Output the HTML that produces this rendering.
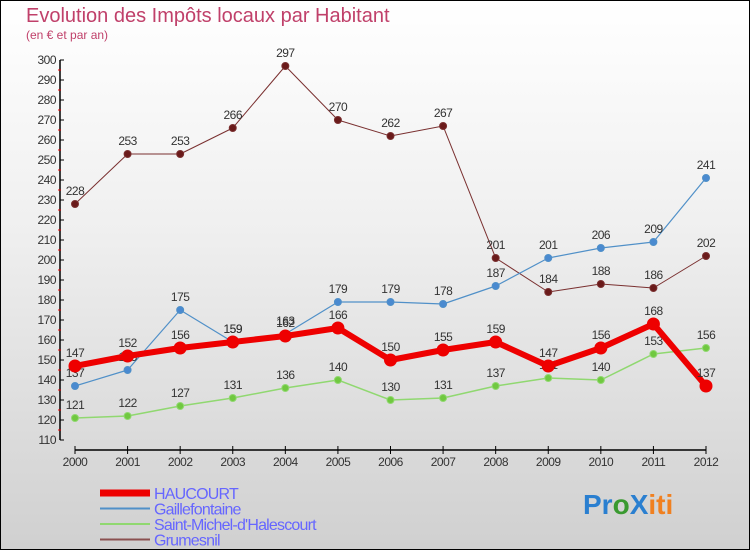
<!DOCTYPE html>
<html><head><meta charset="utf-8"><style>
body{margin:0}
#c{width:750px;height:550px;position:relative;box-sizing:border-box;border:1px solid #000;background:linear-gradient(#ffffff 0%,#f0f0f0 40%,#d0d0d0 100%);font-family:"Liberation Sans",sans-serif;overflow:hidden}
</style></head><body>
<div id="c">
<svg id="s" width="750" height="550" style="position:absolute;left:-1px;top:-1px">
<text x="26" y="22" font-size="20" fill="#c0406a">Evolution des Impôts locaux par Habitant</text>
<text x="26" y="39" font-size="12" fill="#c0406a">(en € et par an)</text>
<g id="axes"></g><g id="series"></g><g id="legend"></g>
<text x="583" y="514" font-size="28" font-weight="bold"><tspan fill="#2a7fd0">Pr</tspan><tspan fill="#3a9a30">o</tspan><tspan fill="#2a7fd0">X</tspan><tspan fill="#f08020">iti</tspan></text>
</svg>
</div>
<script>
const years=["2000","2001","2002","2003","2004","2005","2006","2007","2008","2009","2010","2011","2012"];
const yTicks=[110,120,130,140,150,160,170,180,190,200,210,220,230,240,250,260,270,280,290,300];
const haucourt=[147,152,156,159,162,166,150,155,159,147,156,168,137];
const gaillefontaine=[137,145,175,159,163,179,179,178,187,201,206,209,241];
const saintMichel=[121,122,127,131,136,140,130,131,137,141,140,153,156];
const grumesnil=[228,253,253,266,297,270,262,267,201,184,188,186,202];
const NS="http://www.w3.org/2000/svg";
function X(i){return 75+i*(706-75)/12;}
function Y(v){return 60+(300-v)*2;}
function mk(tag,attrs,parent,txt){const e=document.createElementNS(NS,tag);for(const k in attrs)e.setAttribute(k,attrs[k]);if(txt!==undefined)e.textContent=txt;parent.appendChild(e);return e;}
const ax=document.getElementById('axes');
let e=mk('line',{x1:60,y1:Y(110),x2:60,y2:Y(300),stroke:'#000','stroke-width':1.5},ax);

e=mk('line',{x1:75,y1:450,x2:706,y2:450,stroke:'#000','stroke-width':1.5},ax);

yTicks.forEach(v=>{
 mk('line',{x1:60,y1:Y(v),x2:64,y2:Y(v),stroke:'#000'},ax);
 if(v<300)mk('line',{x1:58,y1:Y(v+5),x2:61,y2:Y(v+5),stroke:'#e00'},ax);
 const t=mk('text',{x:56,y:Y(v)+4,'font-size':12,'text-anchor':'end',fill:'#333','letter-spacing':'-0.5'},ax,String(v));
 
});
years.forEach((y,i)=>{
 mk('line',{x1:X(i),y1:446,x2:X(i),y2:454,stroke:'#000'},ax);
 const t=mk('text',{x:X(i),y:466,'font-size':12,'text-anchor':'middle',fill:'#333','letter-spacing':'-0.5'},ax,y);
 
});
const sg=document.getElementById('series');
function draw(name,data,color,w,r,dot){
 const g=mk('g',{},sg);
 
 const p=mk('polyline',{points:data.map((v,i)=>X(i)+','+Y(v)).join(' '),fill:'none',stroke:color,'stroke-width':w,'stroke-linejoin':'round'},g);
 
 data.forEach((v,i)=>{
  const c=mk('circle',{cx:X(i),cy:Y(v),r:r,fill:dot,stroke:color,'stroke-width':1},g);
  
  const t=mk('text',{x:X(i),y:Y(v)-9,'font-size':12,'text-anchor':'middle',fill:'#333','letter-spacing':'-0.5'},g,String(v));
  
 });
}
draw('grumesnil',grumesnil,'#7a3030',1,3.5,'#6a1a1a');
draw('saint-michel',saintMichel,'#90d870',1.5,3.5,'#70c840');
draw('gaillefontaine',gaillefontaine,'#5090c8',1.2,3.5,'#4a8ad0');
draw('haucourt',haucourt,'#ee0000',6,6,'#ee0000');
const lg=document.getElementById('legend');
[['HAUCOURT','#ee0000',7],['Gaillefontaine','#5090c8',2],['Saint-Michel-d\'Halescourt','#90d870',2],['Grumesnil','#8a5050',2]].forEach((d,i)=>{
 const y=493+i*15.5;
 const l=mk('line',{x1:100,y1:y,x2:150,y2:y,stroke:d[1],'stroke-width':d[2]},lg);
 
 const t=mk('text',{x:154,y:y+6,'font-size':16,fill:'#6666ff','letter-spacing':'-0.8'},lg,d[0]);
 
});
</script>
</body></html>
